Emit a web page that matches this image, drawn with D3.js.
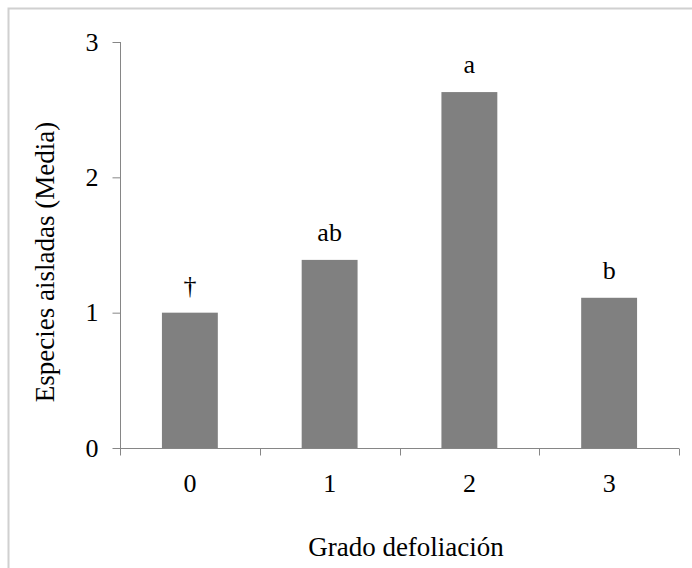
<!DOCTYPE html>
<html>
<head>
<meta charset="utf-8">
<script src="https://cdnjs.cloudflare.com/ajax/libs/d3/7.8.5/d3.min.js"></script>
<style>
	body { margin: 0; background: #fff; }
</style>
</head>
<body>
<script>
var categories = ["0", "1", "2", "3"]
var values = [1.0, 1.39, 2.63, 1.11]
var letters = ["†", "ab", "a", "b"]
var yTicks = [0, 1, 2, 3]

var width = 692, height = 568
var serif = "'Liberation Serif', 'Times New Roman', Times, serif"

var svg = d3.select("body").append("svg")
	.attr("width", width)
	.attr("height", height)
	.style("font-family", serif)

// light frame round the chart (only top and left visible)
svg.append("path")
	.attr("d", "M8.5," + height + "V8.5H" + width)
	.attr("fill", "none")
	.attr("stroke", "#d0d0d0")
	.attr("stroke-width", 2)

var x = d3.scaleBand()
	.domain(categories)
	.range([120, 679])
	.paddingInner(0.6)
	.paddingOuter(0.3)

var y = d3.scaleLinear()
	.domain([0, 3])
	.range([448, 42])

// bars
svg.selectAll("rect.bar")
	.data(values)
	.enter()
	.append("rect")
	.attr("class", "bar")
	.attr("x", function(d, i) { return x(categories[i]) })
	.attr("y", function(d) { return y(d) })
	.attr("width", x.bandwidth())
	.attr("height", function(d) { return y(0) - y(d) })
	.attr("fill", "#808080")

// y axis
var yAxis = svg.append("g")
	.attr("transform", "translate(120.5,0)")
	.call(d3.axisLeft(y).tickValues(yTicks).tickSize(8).tickPadding(14).tickFormat(d3.format("d")))
yAxis.attr("font-family", null).attr("font-size", null)
yAxis.select(".domain").attr("stroke", "#868686").attr("d", "M0," + y(3) + "V" + y(0))
yAxis.selectAll(".tick line").attr("stroke", "#868686")
yAxis.selectAll(".tick text").style("font-size", "26px").style("font-family", serif)

// x axis, ticks sit between the bars
var xAxis = svg.append("g")
	.attr("transform", "translate(0," + (y(0) + 0.5) + ")")
	.call(d3.axisBottom(x).tickSize(0).tickPadding(25))
xAxis.attr("font-family", null).attr("font-size", null)
xAxis.select(".domain").attr("stroke", "#868686").attr("d", "M120,0H679")
xAxis.selectAll(".tick text").style("font-size", "26px").style("font-family", serif)

var bounds = categories.map(function(c) { return x(c) - x.step() * x.paddingInner() / 2 })
bounds.push(679)
bounds[0] = 120
xAxis.selectAll("line.sep")
	.data(bounds)
	.enter()
	.append("line")
	.attr("class", "sep")
	.attr("x1", function(d) { return Math.round(d) + 0.5 })
	.attr("x2", function(d) { return Math.round(d) + 0.5 })
	.attr("y1", 0)
	.attr("y2", 7)
	.attr("stroke", "#868686")

// letters above bars
svg.selectAll("text.lbl")
	.data(values)
	.enter()
	.append("text")
	.attr("class", "lbl")
	.attr("x", function(d, i) { return x(categories[i]) + x.bandwidth() / 2 })
	.attr("y", function(d) { return y(d) - 19 })
	.attr("text-anchor", "middle")
	.style("font-size", "26px")
	.text(function(d, i) { return letters[i] })

// axis titles
svg.append("text")
	.attr("x", 406)
	.attr("y", 556)
	.attr("text-anchor", "middle")
	.style("font-size", "27px")
	.text("Grado defoliación")

svg.append("text")
	.attr("transform", "translate(54,262) rotate(-90)")
	.attr("text-anchor", "middle")
	.style("font-size", "27px")
	.text("Especies aisladas (Media)")
</script>
</body>
</html>
